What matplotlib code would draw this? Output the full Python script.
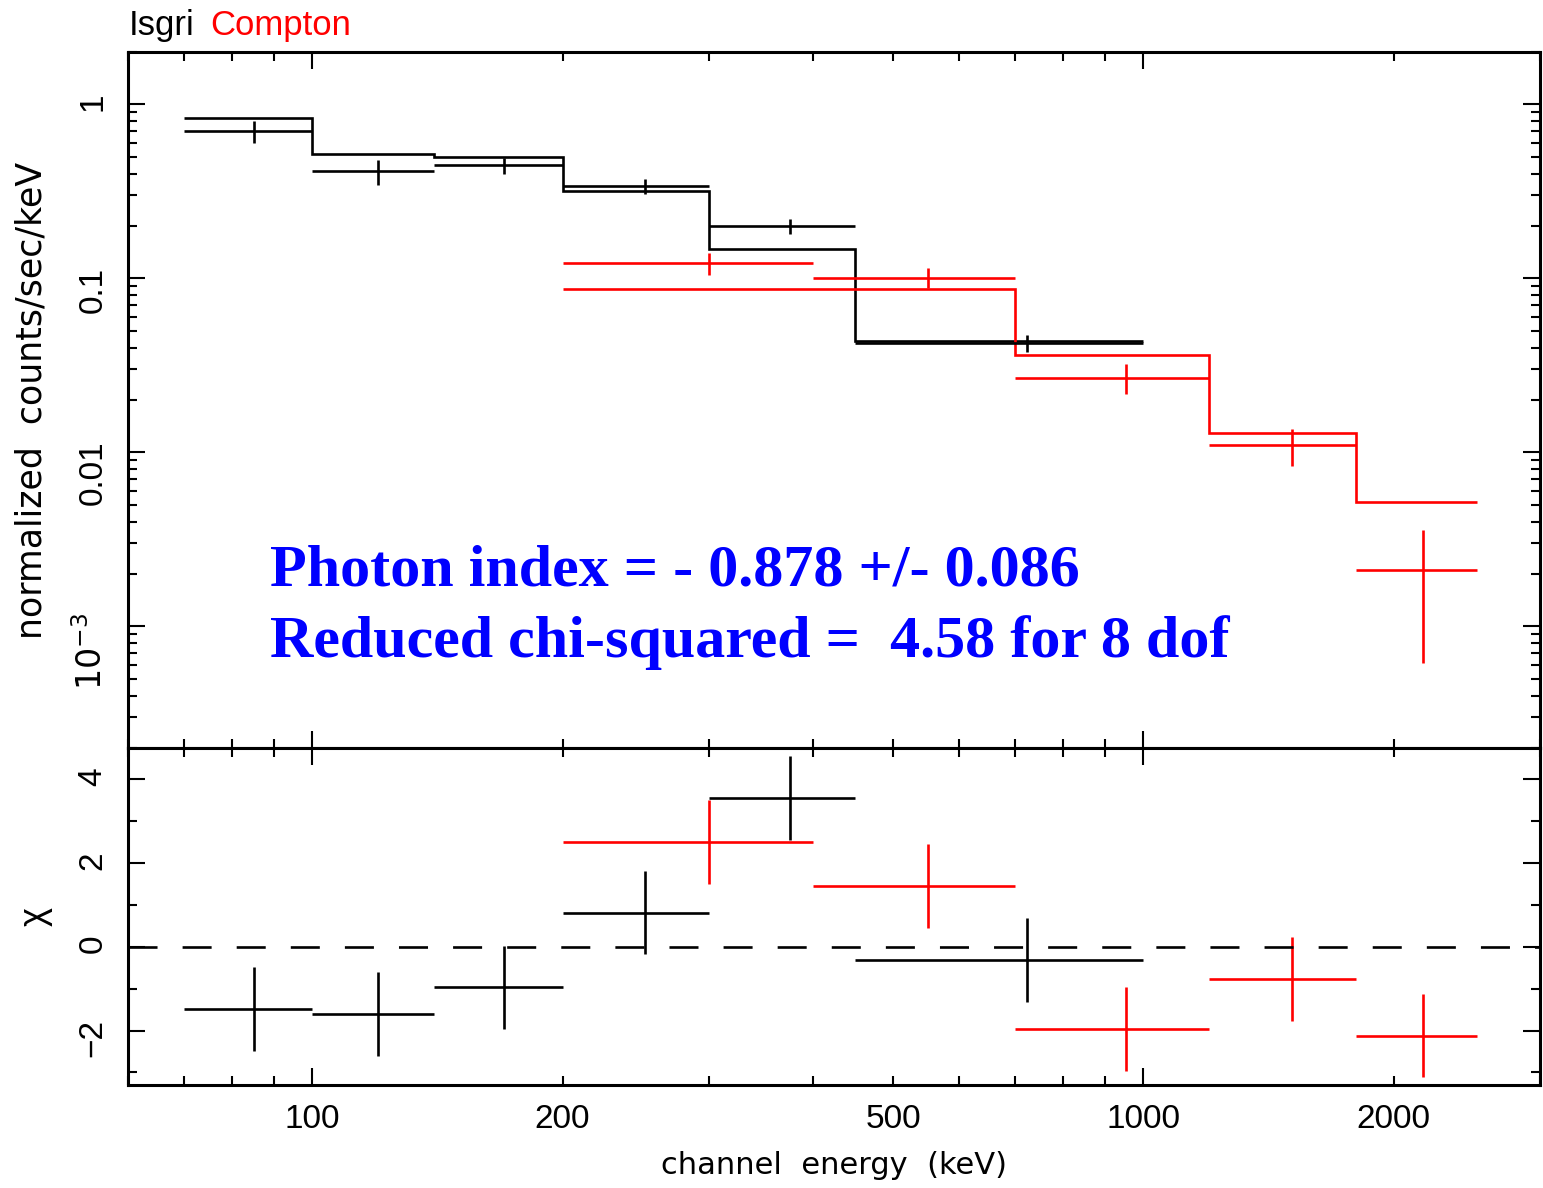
import matplotlib
matplotlib.use('Agg')
import matplotlib.pyplot as plt
from matplotlib.ticker import FixedLocator, FuncFormatter, LogLocator, MultipleLocator
import numpy as np

# ISGRI spectrum: channel bins (keV), counts/sec/keV, 1-sigma errors, folded model, residuals
isgri_lo = [70, 100, 140, 200, 300, 450]
isgri_hi = [100, 140, 200, 300, 450, 1000]
isgri_e = [85, 120, 170, 251, 376, 724]
isgri_rate = [0.703, 0.414, 0.446, 0.339, 0.200, 0.0425]
isgri_err = [0.10, 0.068, 0.046, 0.034, 0.019, 0.005]
isgri_model = [0.838, 0.516, 0.496, 0.318, 0.147, 0.0434]
isgri_chi = [-1.48, -1.60, -0.97, 0.82, 3.56, -0.32]

# Compton mode spectrum
compton_lo = [200, 400, 700, 1200, 1800]
compton_hi = [400, 700, 1200, 1800, 2520]
compton_e = [300, 550, 954, 1508, 2168]
compton_rate = [0.122, 0.101, 0.0269, 0.01097, 0.0021]
compton_err = [0.017, 0.013, 0.0052, 0.0026, 0.00148]
compton_model = [0.0873, 0.0866, 0.0361, 0.01298, 0.00518]
compton_chi = [2.51, 1.46, -1.96, -0.76, -2.12]

fit_text = ['Photon index = - 0.878 +/- 0.086',
            'Reduced chi-squared =  4.58 for 8 dof']

LW = 1.9
SANS = 'Liberation Sans'
FS = 24

W, H = 1543, 1188
fig = plt.figure(figsize=(W / 100, H / 100), dpi=100)
left, right = 128 / W, 1540 / W
ax = fig.add_axes([left, 1 - 748 / H, right - left, (748 - 52) / H])
axr = fig.add_axes([left, 1 - 1085 / H, right - left, (1085 - 748) / H], sharex=ax)


def spectrum(ax, lo, hi, e, rate, err, model, color):
    e = np.array(e)
    xerr = [e - np.array(lo), np.array(hi) - e]
    ax.errorbar(e, rate, xerr=xerr, yerr=err, fmt='none', ecolor=color,
                elinewidth=LW, capsize=0)
    ax.stairs(model, list(lo) + [hi[-1]], baseline=None, color=color, lw=LW)


def residuals(ax, lo, hi, e, chi, color):
    e = np.array(e)
    xerr = [e - np.array(lo), np.array(hi) - e]
    ax.errorbar(e, chi, xerr=xerr, yerr=np.ones(len(chi)), fmt='none',
                ecolor=color, elinewidth=LW, capsize=0)


spectrum(ax, isgri_lo, isgri_hi, isgri_e, isgri_rate, isgri_err, isgri_model, 'black')
spectrum(ax, compton_lo, compton_hi, compton_e, compton_rate, compton_err, compton_model, 'red')
residuals(axr, isgri_lo, isgri_hi, isgri_e, isgri_chi, 'black')
residuals(axr, compton_lo, compton_hi, compton_e, compton_chi, 'red')
axr.axhline(0, color='black', lw=LW, dashes=(11, 9.5))

ax.set_xscale('log')
ax.set_yscale('log')
ax.set_xlim(60, 3000)
ax.set_ylim(2e-4, 2)
axr.set_ylim(-3.3, 4.75)

# x ticks: long ticks on decades, labels also on 200, 500, 2000
labelled = {100, 200, 500, 1000, 2000}
axr.xaxis.set_major_locator(FixedLocator([100, 1000]))
axr.xaxis.set_minor_locator(LogLocator(subs=np.arange(2, 10)))
fmt = FuncFormatter(lambda v, p: '%d' % round(v) if round(v) in labelled else '')
axr.xaxis.set_major_formatter(fmt)
axr.xaxis.set_minor_formatter(fmt)

ax.yaxis.set_major_locator(FixedLocator([1e-3, 1e-2, 0.1, 1]))
ax.yaxis.set_minor_locator(LogLocator(subs=np.arange(2, 10)))
ax.set_yticklabels([r'$10^{-3}$', '0.01', '0.1', '1'])
ax.yaxis.set_minor_formatter(FuncFormatter(lambda v, p: ''))

axr.yaxis.set_major_locator(MultipleLocator(2))
axr.yaxis.set_minor_locator(MultipleLocator(1))

for a in (ax, axr):
    for s in a.spines.values():
        s.set_linewidth(2.2)
    a.tick_params(which='both', direction='in', top=True, right=True, width=1.5)
    a.tick_params(which='major', length=12, labelsize=FS, pad=14)
    a.tick_params(which='minor', length=6.5, labelsize=FS, pad=14)
    a.tick_params(axis='y', labelrotation=90)
    for lab in a.get_xticklabels(which='both') + a.get_yticklabels(which='both'):
        lab.set_family(SANS)
plt.setp(ax.get_xticklabels(which='both'), visible=False)

ax.text(-0.068, 0.5, 'normalized  counts/sec/keV', rotation=90, ha='center', va='center',
        transform=ax.transAxes, fontsize=25, family='DejaVu Sans')
axr.text(-0.066, 0.5, 'χ', rotation=90, ha='center', va='center',
         transform=axr.transAxes, fontsize=FS + 2, family=SANS)
axr.set_xlabel('channel  energy  (keV)', fontsize=22, family='DejaVu Sans', labelpad=11)

fig.text(129 / W, 1 - 35 / H, 'Isgri', color='black', fontsize=25, family=SANS, va='baseline')
fig.text(210 / W, 1 - 35 / H, 'Compton', color='red', fontsize=25, family=SANS, va='baseline')

for i, line in enumerate(fit_text):
    ax.text(0.1006, 0.2328 - i * 0.102, line, transform=ax.transAxes, color='blue',
            fontsize=43.3, family='Liberation Serif', weight='bold', va='baseline')

fig.savefig('out.png', dpi=100)
